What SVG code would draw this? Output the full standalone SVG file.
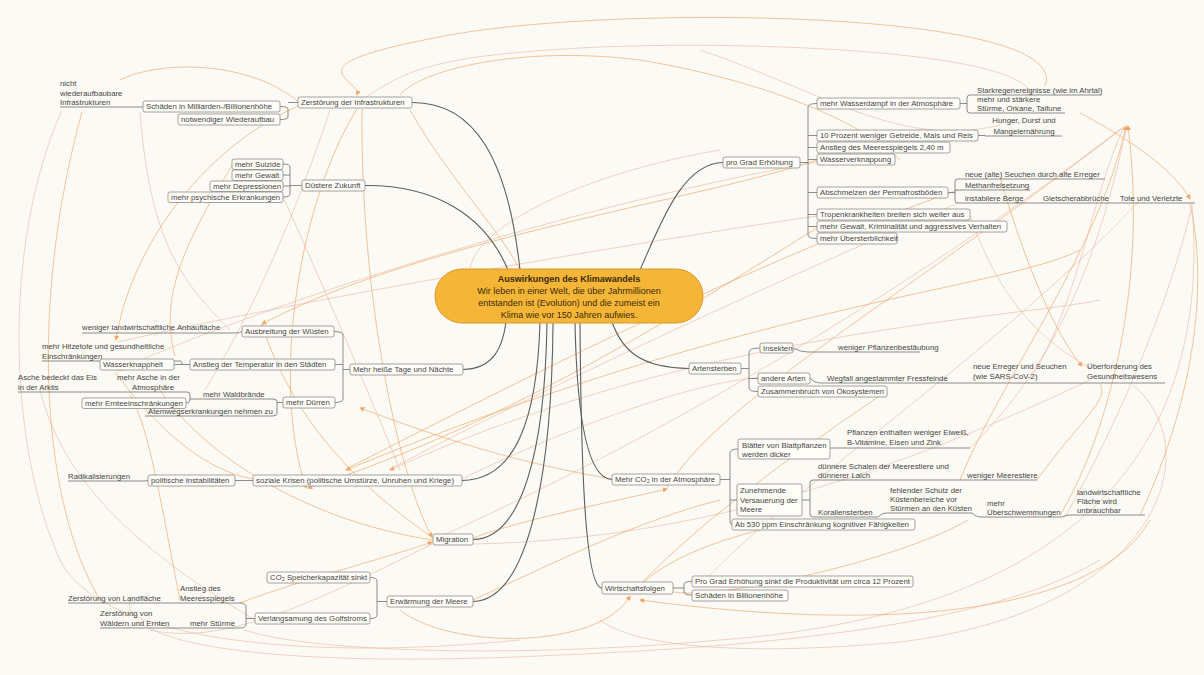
<svg xmlns="http://www.w3.org/2000/svg" width="1204" height="675" viewBox="0 0 1204 675">
<defs>
<style>
.t{font-family:"Liberation Sans",Arial,sans-serif;font-size:7.8px;fill:#454545}
.tc{font-family:"Liberation Sans",Arial,sans-serif;font-size:9px;fill:#3a2a05;text-anchor:middle}
.b{fill:#fffdf8;stroke:#8a8a8a;stroke-width:0.8}
.br{fill:none;stroke:#707070;stroke-width:0.8}
.m{fill:none;stroke:#5e5e5e;stroke-width:1.1}
.x1{fill:none;stroke:#f0a560;stroke-width:0.85;opacity:0.75}
.x2{fill:none;stroke:#eab9a6;stroke-width:0.85;opacity:0.75}
</style>
<marker id="ar" viewBox="0 0 6 6" refX="5" refY="3" markerWidth="6" markerHeight="6" orient="auto">
<path d="M0,0 L6,3 L0,6 z" fill="#ee8a3a"/>
</marker>
</defs>
<rect x="0" y="0" width="1204" height="675" fill="#fcfaf4"/>

<g id="crosslinks">
<path class="x1" d="M1045,86 C1075,10 620,4 450,35 S362,78 357,95" marker-end="url(#ar)"/>
<path class="x2" d="M1032,96 C1025,48 720,40 580,48 S410,68 366,97"/>
<path class="x1" d="M357,109 C300,200 270,380 306,488" marker-end="url(#ar)"/>
<path class="x1" d="M362,109 C360,300 400,480 432,537" marker-end="url(#ar)"/>
<path class="x1" d="M1080,250 C1000,290 760,300 346,470" marker-end="url(#ar)"/>
<path class="x2" d="M1100,300 C1000,320 700,330 390,470" marker-end="url(#ar)"/>
<path class="x1" d="M1060,515 C1100,450 1150,300 1128,126" marker-end="url(#ar)"/>
<path class="x1" d="M960,480 C1000,380 1100,250 1126,126" marker-end="url(#ar)"/>
<path class="x2" d="M1030,380 C1080,300 1090,200 1124,127"/>
<path class="x1" d="M667,488 C720,400 900,300 1124,127"/>
<path class="x2" d="M433,540 C700,420 950,260 1122,128"/>
<path class="x1" d="M1190,204 C1212,300 1185,420 1140,515"/>
<path class="x2" d="M1192,204 C1210,420 1110,610 720,640 C500,660 300,650 245,630"/>
<path class="x2" d="M1133,385 C1210,450 1160,610 900,642 C760,655 640,650 600,620"/>
<path class="x1" d="M1150,520 C1100,610 900,635 640,600" marker-end="url(#ar)"/>
<path class="x1" d="M433,538 C380,500 300,440 262,325" marker-end="url(#ar)"/>
<path class="x1" d="M473,538 C520,520 620,500 667,489" marker-end="url(#ar)"/>
<path class="x1" d="M240,603 C300,580 380,560 432,542" marker-end="url(#ar)"/>
<path class="x2" d="M432,544 C300,610 220,645 150,630"/>
<path class="x1" d="M760,530 C720,540 660,560 634,592" marker-end="url(#ar)"/>
<path class="x1" d="M400,610 C450,650 600,650 630,596" marker-end="url(#ar)"/>
<path class="x1" d="M817,160 C700,200 420,240 262,324" marker-end="url(#ar)"/>
<path class="x2" d="M817,162 C600,200 300,290 117,370" marker-end="url(#ar)"/>
<path class="x2" d="M817,216 C650,240 300,300 118,342"/>
<path class="x2" d="M62,110 C0,250 10,450 60,560 C100,640 300,662 520,640"/>
<path class="x1" d="M82,112 C30,300 40,500 100,600"/>
<path class="x1" d="M817,228 C700,300 520,420 308,488" marker-end="url(#ar)"/>
<path class="x1" d="M958,190 C760,260 560,360 348,468"/>
<path class="x2" d="M958,203 C780,280 560,380 392,468"/>
<path class="x1" d="M1080,113 C1150,150 1180,180 1190,199" marker-end="url(#ar)"/>
<path class="x1" d="M1000,177 C1030,280 1060,340 1082,366" marker-end="url(#ar)"/>
<path class="x2" d="M970,216 C1000,300 1040,340 1090,368"/>
<path class="x1" d="M115,372 C150,420 200,470 253,479"/>
<path class="x1" d="M298,106 C200,150 130,250 116,340" marker-end="url(#ar)"/>
<path class="x2" d="M205,390 C260,300 300,200 330,110"/>
<path class="x1" d="M160,390 C200,450 300,520 433,540"/>
<path class="x2" d="M700,50 C820,90 900,150 1000,125"/>
<path class="x1" d="M520,270 C500,230 450,180 410,110"/>
<path class="x2" d="M40,390 C60,470 120,540 255,620"/>
<path class="x1" d="M612,479 C500,460 420,430 360,408" marker-end="url(#ar)"/>
<path class="x2" d="M1090,380 C900,470 700,540 473,544"/>
<path class="x1" d="M887,391 C800,450 700,520 635,590"/>
<path class="x2" d="M1140,200 C1000,350 800,480 700,585"/>
<path class="x1" d="M180,600 C160,500 150,430 130,395"/>
<path class="x2" d="M230,330 C180,280 150,240 140,112"/>
<path class="x1" d="M900,160 C860,120 760,80 640,60 C520,45 420,70 400,95"/>
<path class="x2" d="M720,150 C600,170 480,220 470,268"/>
<path class="x1" d="M968,520 C900,560 720,600 674,592"/>
<path class="x2" d="M1065,517 C1120,420 1170,300 1192,206"/>
<path class="x2" d="M970,448 C1060,360 1100,250 1126,130"/>
<path class="x1" d="M1037,480 C1080,420 1110,400 1100,384"/>
<path class="x2" d="M283,197 C330,300 380,420 400,470"/>
<path class="x1" d="M233,164 C180,250 160,300 175,356"/>
<path class="x2" d="M460,480 C560,430 700,380 758,378"/>
<path class="x1" d="M473,600 C560,560 640,520 720,500"/>
<path class="x2" d="M130,600 C120,650 300,668 560,655 C800,645 1000,620 1100,560"/>
<path class="x1" d="M300,103 C250,60 160,60 120,80"/>
</g>

<g id="connectors">
<path class="m" d="M412,102.5 C475,102 508,160 520,270"/>
<path class="m" d="M365,185.5 C435,185 485,215 508,270"/>
<path class="m" d="M463,369.5 C495,369 503,345 506,322"/>
<path class="m" d="M462,480.5 C515,480 537,420 540,323"/>
<path class="m" d="M473,539.5 C522,539 545,450 547,323"/>
<path class="m" d="M473,601.5 C532,600 552,460 553,323"/>
<path class="m" d="M723,162.5 C682,163 660,225 640,270"/>
<path class="m" d="M689,368.5 C640,368 622,350 612,322"/>
<path class="m" d="M612,479.5 C588,479 577,420 575,323"/>
<path class="m" d="M602,588 C584,588 581,450 580,323"/>

<path class="br" d="M298,102.5 H288 M280,106.5 Q288,106.5 288,109 V117 Q288,119.5 280,119.5"/>
<path class="br" d="M60,107 H143"/>
<path class="br" d="M302,185.5 H290 M283,164 Q290,164 290,167 V194 Q290,197 283,197 M290,175 H283 M290,186 H283"/>
<path class="br" d="M350,369.5 H343 M334,331.5 Q343,331.5 343,335 V399 Q343,402.5 335,402.5 M343,364.5 H335"/>
<path class="br" d="M82,333 H236 Q240,333 242,331.5"/>
<path class="br" d="M190,364.5 H182 M180,361 Q182,361 182,363 V364.5 H174 M42,361 H180"/>
<path class="br" d="M283,402.5 H277 M273,399 Q277,399 277,402 V413 Q277,416 273,416 M193,399 H273 M145,416 H273"/>
<path class="br" d="M193,399 H190 M187,392 Q190,392 190,395 V400 Q190,403 186,403 M18,392 H187"/>
<path class="br" d="M253,480.5 H235 M148,480.5 Q146,481 144,481 H68"/>
<path class="br" d="M387,601.5 H377 M370,577.5 Q377,577.5 377,581 V615 Q377,618.5 370,618.5"/>
<path class="br" d="M255,618.5 H246 M240,603 Q246,603 246,607 V624 Q246,628 240,628 M68,603 H240 M100,628 H240"/>
<path class="br" d="M800,162.5 H808 M817,103.5 Q808,103.5 808,107 V235 Q808,238.5 817,238.5 M808,135.5 H817 M808,147.5 H817 M808,159.5 H817 M808,192.5 H817 M808,214.5 H817 M808,226.5 H817"/>
<path class="br" d="M960,103.5 H967 M970,95 Q967,95 967,98 V110 Q967,113 970,113 M970,95 H1102 M970,113 H1065"/>
<path class="br" d="M978,135.5 H985 V136 H1062"/>
<path class="br" d="M948,192.5 H955 M958,179 Q955,179 955,182 V200 Q955,203 958,203 M955,190 H958 M958,179 H1105 M958,190 H1030 M958,203 H1195"/>
<path class="br" d="M741,368.5 H749 M760,348 Q749,348 749,352 V388 Q749,391.5 758,391.5 M749,378.5 H758"/>
<path class="br" d="M793,348 Q800,352 808,352 H920"/>
<path class="br" d="M810,378.5 Q815,383 820,383 H1165"/>
<path class="br" d="M720,479.5 H730 M738,449 Q730,449 730,453 V521 Q730,524.5 732,524.5 M730,500 H737"/>
<path class="br" d="M830,448 H970"/>
<path class="br" d="M802,500 H810 M813,480 Q810,480 810,483 V514 Q810,517 813,517 M813,480 H1037"/>
<path class="br" d="M813,517 H878 Q882,513 886,513 H972 Q976,517 980,517 H1062 Q1066,515 1070,515 H1145"/>
<path class="br" d="M673,588 H684 M692,581.5 Q684,581.5 684,584 V592 Q684,595 692,595"/>
</g>

<g id="center">
<rect x="435" y="269" width="268" height="54" rx="27" fill="#f5b638" stroke="#d99a2c" stroke-width="1"/>
<text class="tc" x="569" y="282" font-weight="bold" font-size="9.5px">Auswirkungen des Klimawandels</text>
<text class="tc" x="569" y="294">Wir leben in einer Welt, die über Jahrmillionen</text>
<text class="tc" x="569" y="306">entstanden ist (Evolution) und die zumeist ein</text>
<text class="tc" x="569" y="318">Klima wie vor 150 Jahren aufwies.</text>
</g>

<g id="n-infra"><rect class="b" x="298" y="97" width="114" height="11" rx="2"/><text class="t" x="301" y="105">Zerstörung der Infrastrukturen</text></g>
<g id="n-schaeden"><rect class="b" x="143" y="101" width="137" height="11" rx="2"/><text class="t" x="146" y="109">Schäden in Milliarden-/Billionenhöhe</text></g>
<g id="n-wiederaufbau"><rect class="b" x="178" y="114" width="102" height="11" rx="2"/><text class="t" x="181" y="122">notwendiger Wiederaufbau</text></g>
<g id="n-nicht"><text class="t" x="60" y="86">nicht</text><text class="t" x="60" y="95.5">wiederaufbaubare</text><text class="t" x="60" y="105">Infrastrukturen</text></g>

<g id="n-duester"><rect class="b" x="302" y="180" width="63" height="11" rx="2"/><text class="t" x="305" y="188">Düstere Zukunft</text></g>
<g id="n-suizide"><rect class="b" x="232" y="159" width="51" height="10.5" rx="2"/><text class="t" x="235" y="167">mehr Suizide</text></g>
<g id="n-gewalt"><rect class="b" x="232" y="170" width="51" height="10.5" rx="2"/><text class="t" x="235" y="178">mehr Gewalt</text></g>
<g id="n-depress"><rect class="b" x="210" y="181" width="73" height="10.5" rx="2"/><text class="t" x="213" y="189">mehr Depressionen</text></g>
<g id="n-psych"><rect class="b" x="168" y="192" width="115" height="10.5" rx="2"/><text class="t" x="171" y="200">mehr psychische Erkrankungen</text></g>

<g id="n-heisse"><rect class="b" x="350" y="364" width="113" height="11" rx="2"/><text class="t" x="353" y="372">Mehr heiße Tage und Nächte</text></g>
<g id="n-wuesten"><rect class="b" x="242" y="326" width="92" height="11" rx="2"/><text class="t" x="245" y="334">Ausbreitung der Wüsten</text></g>
<g id="n-anbau"><text class="t" x="82" y="330">weniger landwirtschaftliche Anbaufläche</text></g>
<g id="n-temp"><rect class="b" x="190" y="359" width="145" height="11" rx="2"/><text class="t" x="193" y="367">Anstieg der Temperatur in den Städten</text></g>
<g id="n-hitzetote"><text class="t" x="42" y="349">mehr Hitzetote und gesundheitliche</text><text class="t" x="42" y="358.5">Einschränkungen</text></g>
<g id="n-wasser"><rect class="b" x="100" y="359" width="74" height="11" rx="2"/><text class="t" x="103" y="367">Wasserknappheit</text></g>
<g id="n-duerren"><rect class="b" x="283" y="397" width="52" height="11" rx="2"/><text class="t" x="286" y="405">mehr Dürren</text></g>
<g id="n-waldbraende"><text class="t" x="203" y="396.5">mehr Waldbrände</text></g>
<g id="n-asche"><text class="t" x="117" y="380">mehr Asche in der</text><text class="t" x="132" y="389.5">Atmosphäre</text></g>
<g id="n-arktis"><text class="t" x="18" y="380">Asche bedeckt das Eis</text><text class="t" x="18" y="389.5">in der Arktis</text></g>
<g id="n-ernte"><rect class="b" x="82" y="398" width="104" height="10.5" rx="2"/><text class="t" x="85" y="406">mehr Ernteeinschränkungen</text></g>
<g id="n-atemweg"><text class="t" x="148" y="413.5">Atemwegserkrankungen nehmen zu</text></g>

<g id="n-krisen"><rect class="b" x="253" y="475" width="209" height="11" rx="2"/><text class="t" x="256" y="483">soziale Krisen (politische Umstürze, Unruhen und Kriege)</text></g>
<g id="n-instab"><rect class="b" x="148" y="475" width="87" height="11" rx="2"/><text class="t" x="151" y="483">politische Instabilitäten</text></g>
<g id="n-radikal"><text class="t" x="68" y="478.5">Radikalisierungen</text></g>
<g id="n-migration"><rect class="b" x="433" y="534" width="40" height="11" rx="2"/><text class="t" x="436" y="542">Migration</text></g>

<g id="n-meere"><rect class="b" x="387" y="596" width="86" height="11" rx="2"/><text class="t" x="390" y="604">Erwärmung der Meere</text></g>
<g id="n-co2speicher"><rect class="b" x="267" y="572" width="103" height="11" rx="2"/><text class="t" x="270" y="580">CO₂ Speicherkapazität sinkt</text></g>
<g id="n-golf"><rect class="b" x="255" y="613" width="115" height="11" rx="2"/><text class="t" x="258" y="621">Verlangsamung des Golfstroms</text></g>
<g id="n-anstieg"><text class="t" x="180" y="591">Anstieg des</text><text class="t" x="180" y="600.5">Meeresspiegels</text></g>
<g id="n-landflaeche"><text class="t" x="68" y="600.5">Zerstörung von Landfläche</text></g>
<g id="n-stuerme"><text class="t" x="190" y="625.5">mehr Stürme</text></g>
<g id="n-waelder"><text class="t" x="100" y="616">Zerstörung von</text><text class="t" x="100" y="625.5">Wäldern und Ernten</text></g>

<g id="n-progrd"><rect class="b" x="723" y="157" width="77" height="11" rx="2"/><text class="t" x="726" y="165">pro Grad Erhöhung</text></g>
<g id="n-dampf"><rect class="b" x="817" y="98" width="143" height="11" rx="2"/><text class="t" x="820" y="106">mehr Wasserdampf in der Atmosphäre</text></g>
<g id="n-starkregen"><text class="t" x="977" y="92.5">Starkregenereignisse (wie im Ahrtal)</text></g>
<g id="n-stuerme2"><text class="t" x="977" y="102">mehr und stärkere</text><text class="t" x="977" y="111">Stürme, Orkane, Taifune</text></g>
<g id="n-getreide"><rect class="b" x="817" y="130" width="161" height="11" rx="2"/><text class="t" x="820" y="138">10 Prozent weniger Getreide, Mais und Reis</text></g>
<g id="n-hunger"><text class="t" x="1024" y="123" text-anchor="middle">Hunger, Durst und</text><text class="t" x="1024" y="133.5" text-anchor="middle">Mangelernährung</text></g>
<g id="n-meeresspiegel"><rect class="b" x="817" y="142" width="133" height="11" rx="2"/><text class="t" x="820" y="150">Anstieg des Meeresspiegels 2,40 m</text></g>
<g id="n-wasserverk"><rect class="b" x="817" y="154" width="78" height="11" rx="2"/><text class="t" x="820" y="162">Wasserverknappung</text></g>
<g id="n-perma"><rect class="b" x="817" y="187" width="131" height="11" rx="2"/><text class="t" x="820" y="195">Abschmelzen der Permafrostböden</text></g>
<g id="n-seuchen"><text class="t" x="965" y="176.5">neue (alte) Seuchen durch alte Erreger</text></g>
<g id="n-methan"><text class="t" x="965" y="187.5">Methanfreisetzung</text></g>
<g id="n-berge"><text class="t" x="965" y="200.5">instabilere Berge</text></g>
<g id="n-gletscher"><text class="t" x="1043" y="200.5">Gletscherabbrüche</text></g>
<g id="n-tote"><text class="t" x="1120" y="200.5">Tote und Verletzte</text></g>
<g id="n-tropen"><rect class="b" x="817" y="209" width="153" height="11" rx="2"/><text class="t" x="820" y="217">Tropenkrankheiten breiten sich weiter aus</text></g>
<g id="n-gewalt2"><rect class="b" x="817" y="221" width="190" height="11" rx="2"/><text class="t" x="820" y="229">mehr Gewalt, Kriminalität und aggressives Verhalten</text></g>
<g id="n-uebersterb"><rect class="b" x="817" y="233" width="80" height="11" rx="2"/><text class="t" x="820" y="241">mehr Übersterblichkeit</text></g>

<g id="n-arten"><rect class="b" x="689" y="363" width="52" height="11" rx="2"/><text class="t" x="692" y="371">Artensterben</text></g>
<g id="n-insekten"><rect class="b" x="760" y="343" width="33" height="10" rx="2"/><text class="t" x="763" y="350.5">Insekten</text></g>
<g id="n-bestaeubung"><text class="t" x="838" y="350">weniger Pflanzenbestäubung</text></g>
<g id="n-andere"><rect class="b" x="758" y="373" width="52" height="11" rx="2"/><text class="t" x="761" y="381">andere Arten</text></g>
<g id="n-wegfall"><text class="t" x="827" y="380.5" font-size="8.6px">Wegfall angestammter Fressfeinde</text></g>
<g id="n-erreger"><text class="t" x="973" y="369">neue Erreger und Seuchen</text><text class="t" x="973" y="378.5">(wie SARS-CoV-2)</text></g>
<g id="n-ueberforderung"><text class="t" x="1087" y="369">Überforderung des</text><text class="t" x="1087" y="379">Gesundheitswesens</text></g>
<g id="n-zusammen"><rect class="b" x="758" y="386" width="129" height="11" rx="2"/><text class="t" x="761" y="394">Zusammenbruch von Ökosystemen</text></g>

<g id="n-co2"><rect class="b" x="612" y="474" width="108" height="11" rx="2"/><text class="t" x="615" y="482">Mehr CO₂ in der Atmosphäre</text></g>
<g id="n-blaetter"><rect class="b" x="738" y="439" width="92" height="20" rx="2"/><text class="t" x="742" y="447.5">Blätter von Blattpflanzen</text><text class="t" x="742" y="456.5">werden dicker</text></g>
<g id="n-pflanzen"><text class="t" x="847" y="435">Pflanzen enthalten weniger Eiweiß,</text><text class="t" x="847" y="445">B-Vitamine, Eisen und Zink</text></g>
<g id="n-versauerung"><rect class="b" x="737" y="484" width="65" height="32" rx="2"/><text class="t" x="740" y="493">Zunehmende</text><text class="t" x="740" y="502.5">Versauerung der</text><text class="t" x="740" y="512">Meere</text></g>
<g id="n-schalen"><text class="t" x="818" y="469">dünnere Schalen der Meerestiere und</text><text class="t" x="818" y="478">dünnerer Laich</text></g>
<g id="n-meerestiere"><text class="t" x="967" y="478">weniger Meerestiere</text></g>
<g id="n-korallen"><text class="t" x="818" y="515">Korallensterben</text></g>
<g id="n-schutz"><text class="t" x="890" y="493">fehlender Schutz der</text><text class="t" x="890" y="502">Küstenbereiche vor</text><text class="t" x="890" y="511">Stürmen an den Küsten</text></g>
<g id="n-ueberschw"><text class="t" x="987" y="506">mehr</text><text class="t" x="987" y="515">Überschwemmungen</text></g>
<g id="n-landwirt"><text class="t" x="1077" y="495">landwirtschaftliche</text><text class="t" x="1077" y="504">Fläche wird</text><text class="t" x="1077" y="513">unbrauchbar</text></g>
<g id="n-ppm"><rect class="b" x="732" y="519" width="183" height="11" rx="2"/><text class="t" x="735" y="527">Ab 530 ppm Einschränkung kognitiver Fähigkeiten</text></g>

<g id="n-wirtschaft"><rect class="b" x="602" y="582" width="71" height="12" rx="2"/><text class="t" x="605" y="591">Wirtschaftsfolgen</text></g>
<g id="n-prod"><rect class="b" x="692" y="576" width="221" height="11" rx="2"/><text class="t" x="695" y="584">Pro Grad Erhöhung sinkt die Produktivität um circa 12 Prozent</text></g>
<g id="n-billion"><rect class="b" x="692" y="590" width="96" height="11" rx="2"/><text class="t" x="695" y="598">Schäden in Billionenhöhe</text></g>
</svg>
